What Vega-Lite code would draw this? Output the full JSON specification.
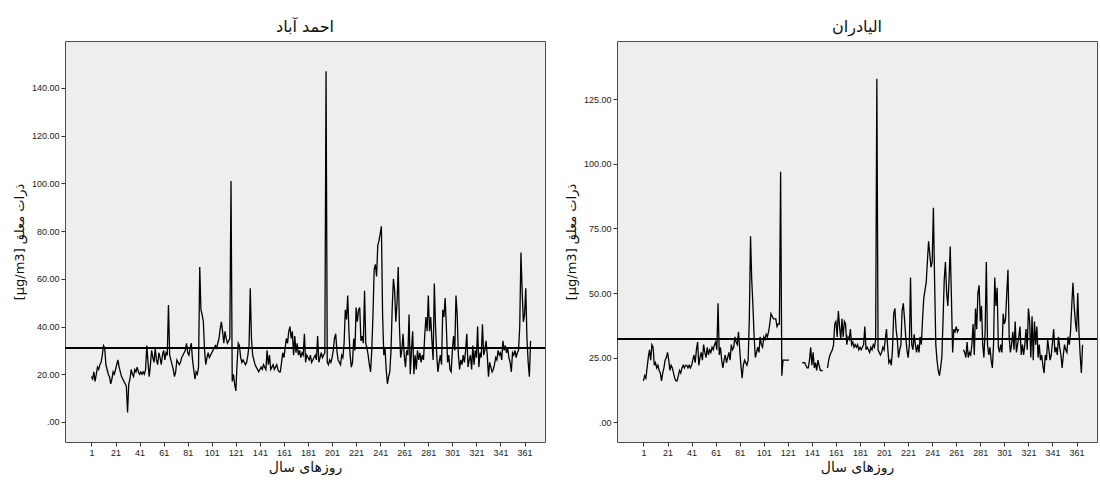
{
  "$schema": "https://vega.github.io/schema/vega-lite/v6.json",
  "background": "#ffffff",
  "padding": {"left": 12, "top": 18, "right": 0, "bottom": 0},
  "spacing": 17,
  "config": {
    "view": {"fill": "#eeeeee", "stroke": "#4d4d4d", "strokeWidth": 1},
    "axis": {"grid": false, "domain": false, "tickColor": "#333333", "tickSize": 4, "labelFont": "Liberation Sans", "labelFontSize": 9, "labelColor": "#222222", "titleFont": "DejaVu Sans", "titleFontWeight": "normal", "titleColor": "#111111"},
    "title": {"font": "DejaVu Sans", "fontSize": 16, "fontWeight": "normal", "color": "#111111", "offset": 6}
  },
  "datasets": {
    "ahmad": [
{"day":1,"pm":19},{"day":2,"pm":18},{"day":3,"pm":21},{"day":4,"pm":17},{"day":5,"pm":20},{"day":6,"pm":23},{"day":7,"pm":22},{"day":8,"pm":24},{"day":9,"pm":25},{"day":10,"pm":28},
{"day":11,"pm":32},{"day":12,"pm":31},{"day":13,"pm":24},{"day":14,"pm":22},{"day":15,"pm":20},{"day":16,"pm":19},{"day":17,"pm":16},{"day":18,"pm":18},{"day":19,"pm":21},{"day":20,"pm":20},
{"day":21,"pm":22},{"day":22,"pm":24},{"day":23,"pm":26},{"day":24,"pm":23},{"day":25,"pm":21},{"day":26,"pm":19},{"day":27,"pm":18},{"day":28,"pm":17},{"day":29,"pm":16},{"day":30,"pm":15},
{"day":31,"pm":4},{"day":32,"pm":16},{"day":33,"pm":18},{"day":34,"pm":22},{"day":35,"pm":20},{"day":36,"pm":19},{"day":37,"pm":22},{"day":38,"pm":21},{"day":39,"pm":23},{"day":40,"pm":21},
{"day":41,"pm":20},{"day":42,"pm":21},{"day":43,"pm":20},{"day":44,"pm":21},{"day":45,"pm":20},{"day":46,"pm":22},{"day":47,"pm":32},{"day":48,"pm":25},{"day":49,"pm":19},{"day":50,"pm":24},
{"day":51,"pm":30},{"day":52,"pm":27},{"day":53,"pm":25},{"day":54,"pm":31},{"day":55,"pm":26},{"day":56,"pm":24},{"day":57,"pm":29},{"day":58,"pm":27},{"day":59,"pm":24},{"day":60,"pm":28},
{"day":61,"pm":30},{"day":62,"pm":26},{"day":63,"pm":29},{"day":64,"pm":28},{"day":65,"pm":49},{"day":66,"pm":28},{"day":67,"pm":26},{"day":68,"pm":24},{"day":69,"pm":22},{"day":70,"pm":19},
{"day":71,"pm":21},{"day":72,"pm":26},{"day":73,"pm":25},{"day":74,"pm":24},{"day":75,"pm":25},{"day":76,"pm":27},{"day":77,"pm":28},{"day":78,"pm":29},{"day":79,"pm":30},{"day":80,"pm":33},
{"day":81,"pm":29},{"day":82,"pm":28},{"day":83,"pm":31},{"day":84,"pm":33},{"day":85,"pm":26},{"day":86,"pm":22},{"day":87,"pm":18},{"day":88,"pm":21},{"day":89,"pm":20},{"day":90,"pm":23},
{"day":91,"pm":65},{"day":92,"pm":47},{"day":93,"pm":45},{"day":94,"pm":42},{"day":95,"pm":30},{"day":96,"pm":24},{"day":97,"pm":27},{"day":98,"pm":29},{"day":99,"pm":27},{"day":100,"pm":28},
{"day":101,"pm":29},{"day":102,"pm":30},{"day":103,"pm":31},{"day":104,"pm":32},{"day":105,"pm":31},{"day":106,"pm":33},{"day":107,"pm":35},{"day":108,"pm":39},{"day":109,"pm":42},{"day":110,"pm":38},
{"day":111,"pm":33},{"day":112,"pm":38},{"day":113,"pm":35},{"day":114,"pm":33},{"day":115,"pm":34},{"day":116,"pm":35},{"day":117,"pm":101},{"day":118,"pm":17},{"day":119,"pm":20},{"day":120,"pm":16},
{"day":121,"pm":13},{"day":122,"pm":24},{"day":123,"pm":33},{"day":124,"pm":32},{"day":125,"pm":27},{"day":126,"pm":25},{"day":127,"pm":26},{"day":128,"pm":25},{"day":129,"pm":24},{"day":130,"pm":25},
{"day":131,"pm":28},{"day":132,"pm":32},{"day":133,"pm":56},{"day":134,"pm":35},{"day":135,"pm":28},{"day":136,"pm":26},{"day":137,"pm":24},{"day":138,"pm":23},{"day":139,"pm":22},{"day":140,"pm":21},
{"day":141,"pm":22},{"day":142,"pm":23},{"day":143,"pm":22},{"day":144,"pm":24},{"day":145,"pm":23},{"day":146,"pm":22},{"day":147,"pm":30},{"day":148,"pm":24},{"day":149,"pm":28},{"day":150,"pm":22},
{"day":151,"pm":23},{"day":152,"pm":24},{"day":153,"pm":22},{"day":154,"pm":23},{"day":155,"pm":24},{"day":156,"pm":22},{"day":157,"pm":21},{"day":158,"pm":21},{"day":159,"pm":25},{"day":160,"pm":29},
{"day":161,"pm":27},{"day":162,"pm":31},{"day":163,"pm":35},{"day":164,"pm":33},{"day":165,"pm":38},{"day":166,"pm":40},{"day":167,"pm":35},{"day":168,"pm":38},{"day":169,"pm":28},{"day":170,"pm":36},
{"day":171,"pm":29},{"day":172,"pm":33},{"day":173,"pm":28},{"day":174,"pm":30},{"day":175,"pm":27},{"day":176,"pm":29},{"day":177,"pm":28},{"day":178,"pm":37},{"day":179,"pm":25},{"day":180,"pm":28},
{"day":181,"pm":27},{"day":182,"pm":26},{"day":183,"pm":28},{"day":184,"pm":25},{"day":185,"pm":26},{"day":186,"pm":27},{"day":187,"pm":28},{"day":188,"pm":26},{"day":189,"pm":36},{"day":190,"pm":25},
{"day":191,"pm":27},{"day":192,"pm":29},{"day":193,"pm":27},{"day":194,"pm":28},{"day":195,"pm":29},{"day":196,"pm":147},{"day":197,"pm":25},{"day":198,"pm":24},{"day":199,"pm":26},{"day":200,"pm":25},
{"day":201,"pm":27},{"day":202,"pm":30},{"day":203,"pm":35},{"day":204,"pm":37},{"day":205,"pm":30},{"day":206,"pm":26},{"day":207,"pm":25},{"day":208,"pm":24},{"day":209,"pm":28},{"day":210,"pm":27},
{"day":211,"pm":33},{"day":212,"pm":47},{"day":213,"pm":43},{"day":214,"pm":53},{"day":215,"pm":38},{"day":216,"pm":28},{"day":217,"pm":23},{"day":218,"pm":25},{"day":219,"pm":35},{"day":220,"pm":30},
{"day":221,"pm":48},{"day":222,"pm":42},{"day":223,"pm":47},{"day":224,"pm":48},{"day":225,"pm":34},{"day":226,"pm":36},{"day":227,"pm":33},{"day":228,"pm":55},{"day":229,"pm":33},{"day":230,"pm":31},
{"day":231,"pm":28},{"day":232,"pm":24},{"day":233,"pm":21},{"day":234,"pm":30},{"day":235,"pm":45},{"day":236,"pm":64},{"day":237,"pm":66},{"day":238,"pm":61},{"day":239,"pm":74},{"day":240,"pm":76},
{"day":241,"pm":79},{"day":242,"pm":82},{"day":243,"pm":45},{"day":244,"pm":28},{"day":245,"pm":31},{"day":246,"pm":22},{"day":247,"pm":16},{"day":248,"pm":19},{"day":249,"pm":21},{"day":250,"pm":30},
{"day":251,"pm":48},{"day":252,"pm":60},{"day":253,"pm":55},{"day":254,"pm":42},{"day":255,"pm":50},{"day":256,"pm":65},{"day":257,"pm":40},{"day":258,"pm":27},{"day":259,"pm":30},{"day":260,"pm":37},
{"day":261,"pm":28},{"day":262,"pm":23},{"day":263,"pm":30},{"day":264,"pm":28},{"day":265,"pm":45},{"day":266,"pm":20},{"day":267,"pm":30},{"day":268,"pm":38},{"day":269,"pm":20},{"day":270,"pm":28},
{"day":271,"pm":22},{"day":272,"pm":30},{"day":273,"pm":26},{"day":274,"pm":29},{"day":275,"pm":25},{"day":276,"pm":28},{"day":277,"pm":26},{"day":278,"pm":36},{"day":279,"pm":44},{"day":280,"pm":38},
{"day":281,"pm":53},{"day":282,"pm":38},{"day":283,"pm":44},{"day":284,"pm":34},{"day":285,"pm":26},{"day":286,"pm":58},{"day":287,"pm":40},{"day":288,"pm":28},{"day":289,"pm":21},{"day":290,"pm":25},
{"day":291,"pm":28},{"day":292,"pm":24},{"day":293,"pm":47},{"day":294,"pm":44},{"day":295,"pm":52},{"day":296,"pm":40},{"day":297,"pm":25},{"day":298,"pm":28},{"day":299,"pm":22},{"day":300,"pm":21},
{"day":301,"pm":30},{"day":302,"pm":36},{"day":303,"pm":30},{"day":304,"pm":53},{"day":305,"pm":45},{"day":306,"pm":28},{"day":307,"pm":22},{"day":308,"pm":26},{"day":309,"pm":24},{"day":310,"pm":28},
{"day":311,"pm":25},{"day":312,"pm":30},{"day":313,"pm":37},{"day":314,"pm":23},{"day":315,"pm":26},{"day":316,"pm":28},{"day":317,"pm":22},{"day":318,"pm":32},{"day":319,"pm":24},{"day":320,"pm":30},
{"day":321,"pm":27},{"day":322,"pm":40},{"day":323,"pm":23},{"day":324,"pm":29},{"day":325,"pm":27},{"day":326,"pm":41},{"day":327,"pm":28},{"day":328,"pm":30},{"day":329,"pm":34},{"day":330,"pm":28},
{"day":331,"pm":19},{"day":332,"pm":25},{"day":333,"pm":23},{"day":334,"pm":21},{"day":335,"pm":22},{"day":336,"pm":24},{"day":337,"pm":27},{"day":338,"pm":26},{"day":339,"pm":30},{"day":340,"pm":28},
{"day":341,"pm":29},{"day":342,"pm":26},{"day":343,"pm":34},{"day":344,"pm":30},{"day":345,"pm":32},{"day":346,"pm":29},{"day":347,"pm":31},{"day":348,"pm":27},{"day":349,"pm":25},{"day":350,"pm":21},
{"day":351,"pm":29},{"day":352,"pm":28},{"day":353,"pm":30},{"day":354,"pm":27},{"day":355,"pm":29},{"day":356,"pm":30},{"day":357,"pm":40},{"day":358,"pm":71},{"day":359,"pm":55},{"day":360,"pm":42},
{"day":361,"pm":45},{"day":362,"pm":56},{"day":363,"pm":35},{"day":364,"pm":25},{"day":365,"pm":19},{"day":366,"pm":34}
    ],
    "alyadran": [
{"day":1,"pm":16},{"day":2,"pm":18},{"day":3,"pm":17},{"day":4,"pm":21},{"day":5,"pm":25},{"day":6,"pm":28},{"day":7,"pm":24},{"day":8,"pm":30},{"day":9,"pm":29},{"day":10,"pm":22},
{"day":11,"pm":23},{"day":12,"pm":21},{"day":13,"pm":22},{"day":14,"pm":20},{"day":15,"pm":19},{"day":16,"pm":16},{"day":17,"pm":19},{"day":18,"pm":21},{"day":19,"pm":24},{"day":20,"pm":25},
{"day":21,"pm":27},{"day":22,"pm":24},{"day":23,"pm":20},{"day":24,"pm":22},{"day":25,"pm":21},{"day":26,"pm":19},{"day":27,"pm":17},{"day":28,"pm":16},{"day":29,"pm":16},{"day":30,"pm":18},
{"day":31,"pm":20},{"day":32,"pm":19},{"day":33,"pm":21},{"day":34,"pm":22},{"day":35,"pm":21},{"day":36,"pm":22},{"day":37,"pm":22},{"day":38,"pm":21},{"day":39,"pm":22},{"day":40,"pm":21},
{"day":41,"pm":22},{"day":42,"pm":24},{"day":43,"pm":26},{"day":44,"pm":23},{"day":45,"pm":28},{"day":46,"pm":31},{"day":47,"pm":22},{"day":48,"pm":25},{"day":49,"pm":27},{"day":50,"pm":24},
{"day":51,"pm":30},{"day":52,"pm":27},{"day":53,"pm":25},{"day":54,"pm":29},{"day":55,"pm":26},{"day":56,"pm":28},{"day":57,"pm":27},{"day":58,"pm":29},{"day":59,"pm":28},{"day":60,"pm":30},
{"day":61,"pm":31},{"day":62,"pm":28},{"day":63,"pm":46},{"day":64,"pm":26},{"day":65,"pm":29},{"day":66,"pm":24},{"day":67,"pm":21},{"day":68,"pm":24},{"day":69,"pm":26},{"day":70,"pm":23},
{"day":71,"pm":25},{"day":72,"pm":27},{"day":73,"pm":24},{"day":74,"pm":30},{"day":75,"pm":28},{"day":76,"pm":29},{"day":77,"pm":33},{"day":78,"pm":31},{"day":79,"pm":30},{"day":80,"pm":35},
{"day":81,"pm":28},{"day":82,"pm":22},{"day":83,"pm":17},{"day":84,"pm":22},{"day":85,"pm":24},{"day":86,"pm":23},{"day":87,"pm":22},{"day":88,"pm":24},{"day":89,"pm":40},{"day":90,"pm":72},
{"day":91,"pm":55},{"day":92,"pm":45},{"day":93,"pm":33},{"day":94,"pm":25},{"day":95,"pm":27},{"day":96,"pm":29},{"day":97,"pm":27},{"day":98,"pm":33},{"day":99,"pm":30},{"day":100,"pm":29},
{"day":101,"pm":33},{"day":102,"pm":32},{"day":103,"pm":34},{"day":104,"pm":33},{"day":105,"pm":35},{"day":106,"pm":38},{"day":107,"pm":42},{"day":108,"pm":41},{"day":109,"pm":40},{"day":110,"pm":40},
{"day":111,"pm":40},{"day":112,"pm":37},{"day":113,"pm":38},{"day":114,"pm":38},{"day":115,"pm":97},{"day":116,"pm":18},{"day":117,"pm":24},{"day":118,"pm":24},{"day":119,"pm":24},{"day":120,"pm":24},
{"day":121,"pm":24},{"day":122,"pm":24},{"day":123,"pm":null},{"day":124,"pm":null},{"day":125,"pm":null},{"day":126,"pm":null},{"day":127,"pm":null},{"day":128,"pm":null},{"day":129,"pm":null},{"day":130,"pm":null},
{"day":131,"pm":null},{"day":132,"pm":null},{"day":133,"pm":23},{"day":134,"pm":23},{"day":135,"pm":23},{"day":136,"pm":22},{"day":137,"pm":21},{"day":138,"pm":21},{"day":139,"pm":24},{"day":140,"pm":29},
{"day":141,"pm":22},{"day":142,"pm":27},{"day":143,"pm":21},{"day":144,"pm":23},{"day":145,"pm":20},{"day":146,"pm":24},{"day":147,"pm":22},{"day":148,"pm":20},{"day":149,"pm":20},{"day":150,"pm":20},
{"day":151,"pm":null},{"day":152,"pm":null},{"day":153,"pm":null},{"day":154,"pm":21},{"day":155,"pm":24},{"day":156,"pm":26},{"day":157,"pm":27},{"day":158,"pm":28},{"day":159,"pm":30},{"day":160,"pm":38},
{"day":161,"pm":39},{"day":162,"pm":33},{"day":163,"pm":43},{"day":164,"pm":37},{"day":165,"pm":32},{"day":166,"pm":40},{"day":167,"pm":33},{"day":168,"pm":39},{"day":169,"pm":38},{"day":170,"pm":30},
{"day":171,"pm":33},{"day":172,"pm":32},{"day":173,"pm":36},{"day":174,"pm":30},{"day":175,"pm":31},{"day":176,"pm":29},{"day":177,"pm":30},{"day":178,"pm":29},{"day":179,"pm":30},{"day":180,"pm":28},
{"day":181,"pm":29},{"day":182,"pm":28},{"day":183,"pm":29},{"day":184,"pm":30},{"day":185,"pm":37},{"day":186,"pm":28},{"day":187,"pm":29},{"day":188,"pm":28},{"day":189,"pm":27},{"day":190,"pm":29},
{"day":191,"pm":28},{"day":192,"pm":30},{"day":193,"pm":29},{"day":194,"pm":32},{"day":195,"pm":133},{"day":196,"pm":28},{"day":197,"pm":27},{"day":198,"pm":26},{"day":199,"pm":27},{"day":200,"pm":29},
{"day":201,"pm":28},{"day":202,"pm":32},{"day":203,"pm":36},{"day":204,"pm":29},{"day":205,"pm":23},{"day":206,"pm":24},{"day":207,"pm":22},{"day":208,"pm":28},{"day":209,"pm":42},{"day":210,"pm":44},
{"day":211,"pm":36},{"day":212,"pm":32},{"day":213,"pm":25},{"day":214,"pm":28},{"day":215,"pm":30},{"day":216,"pm":43},{"day":217,"pm":46},{"day":218,"pm":40},{"day":219,"pm":33},{"day":220,"pm":28},
{"day":221,"pm":25},{"day":222,"pm":30},{"day":223,"pm":56},{"day":224,"pm":30},{"day":225,"pm":28},{"day":226,"pm":34},{"day":227,"pm":30},{"day":228,"pm":27},{"day":229,"pm":30},{"day":230,"pm":27},
{"day":231,"pm":33},{"day":232,"pm":30},{"day":233,"pm":40},{"day":234,"pm":48},{"day":235,"pm":51},{"day":236,"pm":54},{"day":237,"pm":62},{"day":238,"pm":70},{"day":239,"pm":65},{"day":240,"pm":60},
{"day":241,"pm":62},{"day":242,"pm":83},{"day":243,"pm":55},{"day":244,"pm":30},{"day":245,"pm":24},{"day":246,"pm":20},{"day":247,"pm":18},{"day":248,"pm":21},{"day":249,"pm":25},{"day":250,"pm":39},
{"day":251,"pm":55},{"day":252,"pm":62},{"day":253,"pm":50},{"day":254,"pm":45},{"day":255,"pm":55},{"day":256,"pm":68},{"day":257,"pm":48},{"day":258,"pm":27},{"day":259,"pm":36},{"day":260,"pm":35},
{"day":261,"pm":37},{"day":262,"pm":35},{"day":263,"pm":36},{"day":264,"pm":null},{"day":265,"pm":null},{"day":266,"pm":null},{"day":267,"pm":28},{"day":268,"pm":27},{"day":269,"pm":25},{"day":270,"pm":31},
{"day":271,"pm":25},{"day":272,"pm":27},{"day":273,"pm":26},{"day":274,"pm":30},{"day":275,"pm":38},{"day":276,"pm":26},{"day":277,"pm":44},{"day":278,"pm":36},{"day":279,"pm":50},{"day":280,"pm":53},
{"day":281,"pm":39},{"day":282,"pm":45},{"day":283,"pm":30},{"day":284,"pm":25},{"day":285,"pm":35},{"day":286,"pm":62},{"day":287,"pm":30},{"day":288,"pm":26},{"day":289,"pm":29},{"day":290,"pm":24},
{"day":291,"pm":21},{"day":292,"pm":30},{"day":293,"pm":56},{"day":294,"pm":45},{"day":295,"pm":52},{"day":296,"pm":29},{"day":297,"pm":27},{"day":298,"pm":30},{"day":299,"pm":27},{"day":300,"pm":42},
{"day":301,"pm":38},{"day":302,"pm":40},{"day":303,"pm":50},{"day":304,"pm":59},{"day":305,"pm":33},{"day":306,"pm":27},{"day":307,"pm":30},{"day":308,"pm":35},{"day":309,"pm":28},{"day":310,"pm":39},
{"day":311,"pm":27},{"day":312,"pm":30},{"day":313,"pm":33},{"day":314,"pm":37},{"day":315,"pm":26},{"day":316,"pm":30},{"day":317,"pm":26},{"day":318,"pm":30},{"day":319,"pm":36},{"day":320,"pm":28},
{"day":321,"pm":44},{"day":322,"pm":39},{"day":323,"pm":25},{"day":324,"pm":41},{"day":325,"pm":24},{"day":326,"pm":39},{"day":327,"pm":30},{"day":328,"pm":37},{"day":329,"pm":25},{"day":330,"pm":30},
{"day":331,"pm":24},{"day":332,"pm":26},{"day":333,"pm":22},{"day":334,"pm":19},{"day":335,"pm":26},{"day":336,"pm":24},{"day":337,"pm":32},{"day":338,"pm":28},{"day":339,"pm":24},{"day":340,"pm":26},
{"day":341,"pm":31},{"day":342,"pm":36},{"day":343,"pm":27},{"day":344,"pm":29},{"day":345,"pm":26},{"day":346,"pm":33},{"day":347,"pm":29},{"day":348,"pm":26},{"day":349,"pm":21},{"day":350,"pm":26},
{"day":351,"pm":30},{"day":352,"pm":28},{"day":353,"pm":27},{"day":354,"pm":33},{"day":355,"pm":30},{"day":356,"pm":35},{"day":357,"pm":45},{"day":358,"pm":54},{"day":359,"pm":45},{"day":360,"pm":39},
{"day":361,"pm":35},{"day":362,"pm":50},{"day":363,"pm":35},{"day":364,"pm":26},{"day":365,"pm":19},{"day":366,"pm":30}
    ]
  },
  "hconcat": [
    {
      "width": 480,
      "height": 401,
      "title": {"text": "احمد آباد"},
      "data": {"name": "ahmad"},
      "layer": [
        {
          "mark": {"type": "line", "color": "#000000", "strokeWidth": 1.3},
          "encoding": {
            "x": {"field": "day", "type": "quantitative", "scale": {"domain": [-21, 378], "nice": false, "zero": false},
                  "axis": {"values": [1,21,41,61,81,101,121,141,161,181,201,221,241,261,281,301,321,341,361], "labelFlush": false, "title": "روزهای سال", "titleFontSize": 14, "titlePadding": 3}},
            "y": {"field": "pm", "type": "quantitative", "scale": {"domain": [-8.4, 159.7], "nice": false, "zero": false},
                  "axis": {"values": [0,20,40,60,80,100,120,140], "labelExpr": "datum.value == 0 ? '.00' : format(datum.value, '.2f')", "title": "[µg/m3] ذرات معلق", "titleFontSize": 13, "titlePadding": 5}}
          }
        },
        {
          "mark": {"type": "rule", "color": "#000000", "strokeWidth": 1.5},
          "encoding": {"y": {"datum": 31}}
        }
      ]
    },
    {
      "width": 480,
      "height": 401,
      "title": {"text": "اليادران"},
      "data": {"name": "alyadran"},
      "layer": [
        {
          "mark": {"type": "line", "color": "#000000", "strokeWidth": 1.3},
          "encoding": {
            "x": {"field": "day", "type": "quantitative", "scale": {"domain": [-21, 378], "nice": false, "zero": false},
                  "axis": {"values": [1,21,41,61,81,101,121,141,161,181,201,221,241,261,281,301,321,341,361], "labelFlush": false, "title": "روزهای سال", "titleFontSize": 14, "titlePadding": 3}},
            "y": {"field": "pm", "type": "quantitative", "scale": {"domain": [-7.7, 147.6], "nice": false, "zero": false},
                  "axis": {"values": [0,25,50,75,100,125], "labelExpr": "datum.value == 0 ? '.00' : format(datum.value, '.2f')", "title": "[µg/m3] ذرات معلق", "titleFontSize": 13, "titlePadding": 5}}
          }
        },
        {
          "mark": {"type": "rule", "color": "#000000", "strokeWidth": 1.5},
          "encoding": {"y": {"datum": 32.3}}
        }
      ]
    }
  ]
}
